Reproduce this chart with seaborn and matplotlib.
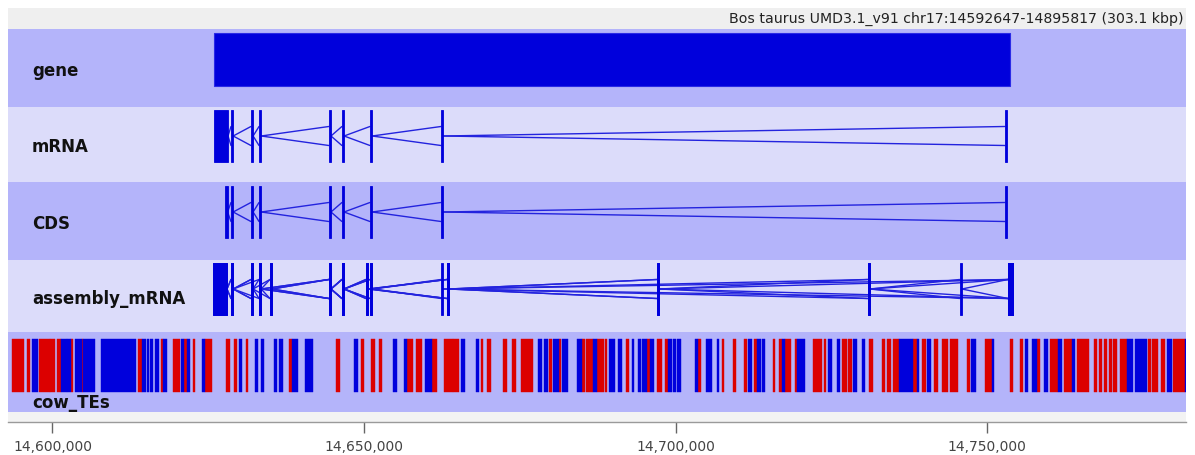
import matplotlib
matplotlib.use("Agg")
import matplotlib.pyplot as plt
from matplotlib.patches import Rectangle
from matplotlib.ticker import FuncFormatter
import pandas as pd
import seaborn as sns

# ---------------------------------------------------------------- data
view_start = 14592860
view_end = 14781930
header_text = "Bos taurus UMD3.1_v91 chr17:14592647-14895817 (303.1 kbp)"

track_names = ["gene", "mRNA", "CDS", "assembly_mRNA", "cow_TEs"]

gene_start = 14625900
gene_end = 14753700

mrna_exon_start = [14625900, 14628650, 14631850, 14633150, 14644350,
                   14646450, 14650950, 14662350, 14752850]
mrna_exon_end = [14628170, 14629000, 14632200, 14633500, 14644700,
                 14646800, 14651300, 14662700, 14753200]

cds_exon_start = [14627700, 14628650, 14631850, 14633150, 14644350,
                  14646450, 14650950, 14662350, 14752850]
cds_exon_end = [14628100, 14629000, 14632200, 14633500, 14644700,
                14646800, 14651300, 14662700, 14753200]

asm_exon_start = [14625760, 14628650, 14631850, 14633150, 14634900,
                  14644350, 14646450, 14650300, 14650950, 14662350,
                  14663300, 14697000, 14730850, 14745600, 14753350]
asm_exon_end = [14628010, 14629000, 14632200, 14633500, 14635250,
                14644700, 14646800, 14650650, 14651300, 14662700,
                14663650, 14697350, 14731200, 14745950, 14754150]
# assembled transcripts, as indices into the assembly exon list
asm_transcripts = [
    [0, 1, 2, 3, 5, 6, 8, 9, 14],
    [1, 2, 4, 5, 6, 7, 10, 11, 12, 13, 14],
    [3, 4, 5, 6, 8, 10, 11, 14],
    [0, 1, 3, 5, 6, 7, 10, 12, 14],
]

# transposable elements (kb) and strand
te_start_kb = [
    14593.45, 14595.86, 14596.66, 14597.83, 14599.60, 14600.67, 14601.36, 14602.38,
    14602.97, 14603.66, 14604.69, 14604.94, 14607.74, 14613.77, 14614.36, 14615.17,
    14615.73, 14616.45, 14617.41, 14617.78, 14619.39, 14620.58, 14621.11, 14621.54,
    14622.50, 14623.95, 14624.48, 14627.85, 14629.13, 14629.98, 14631.06, 14632.50,
    14633.42, 14635.55, 14636.40, 14638.01, 14638.39, 14640.53, 14645.50, 14648.44,
    14649.47, 14651.07, 14652.40, 14654.70, 14656.42, 14656.95, 14658.34, 14659.79,
    14660.86, 14662.84, 14664.33, 14665.52, 14667.92, 14668.73, 14669.78, 14672.35,
    14673.70, 14675.15, 14677.87, 14678.93, 14679.74, 14680.38, 14681.29, 14681.82,
    14684.23, 14684.94, 14685.63, 14686.80, 14687.34, 14688.68, 14689.37, 14690.81,
    14692.05, 14692.96, 14694.02, 14694.66, 14695.37, 14695.90, 14696.97, 14698.31,
    14698.84, 14699.59, 14700.23, 14703.12, 14703.65, 14704.84, 14706.60, 14707.41,
    14709.27, 14710.99, 14711.68, 14712.64, 14713.02, 14713.92, 14715.59, 14716.60,
    14717.04, 14717.57, 14719.17, 14719.54, 14722.11, 14723.83, 14724.52, 14725.86,
    14726.76, 14727.73, 14728.53, 14729.97, 14731.10, 14733.09, 14733.99, 14734.95,
    14735.86, 14738.16, 14738.70, 14739.51, 14740.41, 14741.53, 14742.81, 14744.05,
    14746.73, 14747.42, 14749.67, 14750.74, 14753.68, 14755.28, 14756.09, 14757.16,
    14757.96, 14759.18, 14760.10, 14761.43, 14762.39, 14763.58, 14764.38, 14767.21,
    14767.96, 14768.81, 14769.57, 14770.26, 14771.33, 14772.41, 14773.74, 14775.88,
    14776.42, 14777.91, 14778.83, 14779.89, 14781.77,
]
te_end_kb = [
    14595.43, 14596.39, 14597.72, 14599.60, 14600.40, 14601.32, 14602.28, 14602.92,
    14603.34, 14604.69, 14604.94, 14606.82, 14613.40, 14614.32, 14615.01, 14615.49,
    14616.18, 14617.09, 14617.78, 14618.43, 14620.46, 14621.11, 14621.54, 14622.07,
    14622.87, 14624.48, 14625.55, 14628.49, 14629.56, 14630.37, 14631.43, 14633.03,
    14633.95, 14635.98, 14636.95, 14638.39, 14639.45, 14641.86, 14646.14, 14649.08,
    14650.00, 14651.76, 14652.84, 14655.34, 14656.95, 14657.91, 14659.26, 14660.86,
    14661.66, 14664.23, 14665.29, 14666.21, 14668.45, 14669.14, 14670.38, 14672.90,
    14674.34, 14677.17, 14678.61, 14679.58, 14680.22, 14681.29, 14681.57, 14682.79,
    14684.94, 14685.47, 14686.80, 14687.34, 14688.52, 14689.05, 14690.28, 14691.36,
    14692.48, 14693.38, 14694.41, 14695.37, 14695.90, 14696.54, 14697.87, 14698.84,
    14699.43, 14700.07, 14700.87, 14703.65, 14704.04, 14705.80, 14707.02, 14707.78,
    14709.70, 14711.42, 14712.32, 14713.02, 14713.71, 14714.31, 14715.96, 14717.04,
    14717.57, 14718.48, 14719.54, 14720.78, 14723.46, 14724.15, 14725.06, 14726.39,
    14727.47, 14728.37, 14729.07, 14730.41, 14731.64, 14733.62, 14734.53, 14735.86,
    14738.16, 14738.70, 14739.07, 14740.15, 14741.00, 14742.07, 14743.78, 14745.38,
    14747.26, 14748.22, 14750.74, 14751.16, 14754.21, 14755.81, 14756.62, 14757.96,
    14758.49, 14759.73, 14761.43, 14761.98, 14763.58, 14764.11, 14766.36, 14767.59,
    14768.40, 14769.20, 14770.00, 14770.80, 14772.41, 14773.47, 14775.62, 14776.31,
    14777.48, 14778.56, 14779.73, 14781.77, 14782.04,
]
te_strand = list(
    "++-+++--+-" "+--+----+-" "+-+-+-+++-" "+----+--+-" "+++--++-++"
    "+--+++++--" "+-+--++-++" "--+---+-++" "----+--+++" "-+--++-++-"
    "++--++--++" "++-+-+-+++" "+-+-++--+-" "+-+-++++++" "+--+++-+-"
)

axis_ticks = [14600000, 14650000, 14700000, 14750000]

# ---------------------------------------------------------------- style
sns.set_theme(style="white")
plt.rcParams["font.family"] = ["DejaVu Sans"]

W, H = 1195, 455
band_dark = "#b4b4fa"
band_light = "#dcdcfa"
feature_blue = "#0000dc"
intron_blue = "#2323de"
te_colors = {"+": "#dc0000", "-": "#0000dc"}

# pixel rows of the track bands
band_top = [29, 107, 182, 260, 332]
band_bottom = [107, 182, 260, 332, 412]
glyph_off = [4, 3, 4, 3, 7]
glyph_h = 52
intron_spread = 9.5

fig = plt.figure(figsize=(W / 100, H / 100), dpi=100)
fig.patch.set_facecolor("white")

ax = fig.add_axes([8 / W, 1 - 412 / H, 1178 / W, 404 / H])
span = view_end - view_start
ytr = ax.get_yaxis_transform()

# header strip
ax.add_patch(Rectangle((view_start, 8), span, 21, facecolor="#efefef",
                       edgecolor="none", zorder=0))
ax.text(0.9975, 18.5, header_text, transform=ytr, ha="right", va="center",
        fontsize=10.2, color="#222222")

# alternating track bands and labels
for i, name in enumerate(track_names):
    col = band_dark if i % 2 == 0 else band_light
    ax.add_patch(Rectangle((view_start, band_top[i]), span,
                           band_bottom[i] - band_top[i], facecolor=col,
                           edgecolor="none", zorder=0))
    if name == "cow_TEs":
        ly = band_bottom[i] - 9
    else:
        ly = (band_top[i] + band_bottom[i]) / 2 + 3
    ax.text(0.0204, ly, name, transform=ytr, ha="left", va="center",
            fontsize=12, fontweight="bold", color="#111111", zorder=5)

# gene
gt = band_top[0] + glyph_off[0]
ax.add_patch(Rectangle((gene_start, gt), gene_end - gene_start, glyph_h + 1,
                       facecolor=feature_blue, edgecolor="#2a2ae6", lw=0.8,
                       zorder=2))

intron_rows = []
seg_id = [0]


def draw_model(starts, ends, track):
    top = band_top[track] + glyph_off[track]
    mid = top + glyph_h / 2
    for s, e in zip(starts, ends):
        ax.add_patch(Rectangle((s, top), e - s, glyph_h, facecolor=feature_blue,
                               edgecolor=feature_blue, lw=0.6, zorder=3))
    for k in range(len(starts) - 1):
        x0, x1 = ends[k], starts[k + 1]
        for sign in (-1, 1):
            intron_rows.append((seg_id[0], x0, mid))
            intron_rows.append((seg_id[0], x1, mid + sign * intron_spread))
            seg_id[0] += 1


draw_model(mrna_exon_start, mrna_exon_end, 1)
draw_model(cds_exon_start, cds_exon_end, 2)
for tr in asm_transcripts:
    draw_model([asm_exon_start[j] for j in tr], [asm_exon_end[j] for j in tr], 3)

introns = pd.DataFrame(intron_rows, columns=["seg", "pos", "y"])
sns.lineplot(data=introns, x="pos", y="y", units="seg", estimator=None,
             sort=False, color=intron_blue, lw=1.0, legend=False, ax=ax,
             zorder=2)

# transposable elements
tt = band_top[4] + glyph_off[4]
for strand in ("+", "-"):
    bars = [(s * 1000, (e - s) * 1000)
            for s, e, st in zip(te_start_kb, te_end_kb, te_strand) if st == strand]
    ax.broken_barh(bars, (tt, glyph_h + 1), facecolors=te_colors[strand],
                   edgecolor=te_colors[strand], lw=0.3, zorder=3)

ax.set_xlim(view_start, view_end)
ax.set_ylim(412, 8)
ax.axis("off")

# coordinate ruler
rax = fig.add_axes([8 / W, 1 - 422 / H, 1178 / W, 10 / H])
rax.set_facecolor("#f3f3f3")
rax.set_xlim(view_start, view_end)
rax.set_yticks([])
for side in ("top", "left", "right"):
    rax.spines[side].set_visible(False)
rax.spines["bottom"].set_color("#9a9a9a")
rax.spines["bottom"].set_linewidth(1.0)
rax.set_xticks(axis_ticks)
rax.xaxis.set_major_formatter(FuncFormatter(lambda v, p: f"{int(v):,}"))
rax.tick_params(axis="x", direction="out", length=8, width=1.0, color="#666666",
                labelsize=10, labelcolor="#444444", pad=5, bottom=True)

fig.savefig("out.png", dpi=100, facecolor="white")
